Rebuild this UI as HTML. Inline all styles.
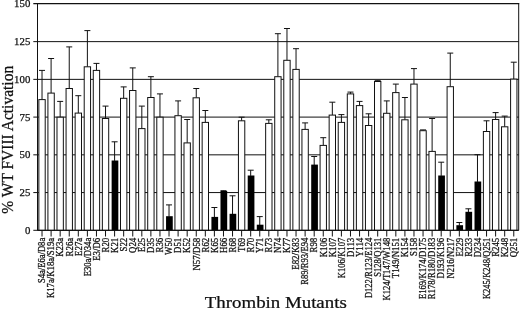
<!DOCTYPE html><html><head><meta charset="utf-8"><style>html,body{margin:0;padding:0;background:#fff;}body{width:520px;height:309px;overflow:hidden;}svg{display:block;}text{font-family:"Liberation Serif",serif;fill:#111;stroke:#111;stroke-width:0.25px;}svg{filter:grayscale(1);}</style></head><body>
<svg width="520" height="309" viewBox="0 0 520 309">
<line x1="33.30" y1="3.6" x2="519.20" y2="3.6" stroke="#111" stroke-width="1.2"/>
<text font-size="10.8" text-anchor="end" transform="translate(30.3,7.40) scale(1.0,1)">150</text>
<line x1="33.30" y1="41.63" x2="518.70" y2="41.63" stroke="#111" stroke-width="1.0"/>
<text font-size="10.8" text-anchor="end" transform="translate(30.3,45.13) scale(1.0,1)">125</text>
<line x1="33.30" y1="79.37" x2="518.70" y2="79.37" stroke="#111" stroke-width="1.0"/>
<text font-size="10.8" text-anchor="end" transform="translate(30.3,82.87) scale(1.0,1)">100</text>
<line x1="33.30" y1="117.10" x2="518.70" y2="117.10" stroke="#111" stroke-width="1.0"/>
<text font-size="10.8" text-anchor="end" transform="translate(30.3,120.60) scale(1.0,1)">75</text>
<line x1="33.30" y1="154.83" x2="518.70" y2="154.83" stroke="#111" stroke-width="1.0"/>
<text font-size="10.8" text-anchor="end" transform="translate(30.3,158.33) scale(1.0,1)">50</text>
<line x1="33.30" y1="192.57" x2="518.70" y2="192.57" stroke="#111" stroke-width="1.0"/>
<text font-size="10.8" text-anchor="end" transform="translate(30.3,196.07) scale(1.0,1)">25</text>
<line x1="33.30" y1="230.30" x2="518.70" y2="230.30" stroke="#111" stroke-width="1.0"/>
<text font-size="10.8" text-anchor="end" transform="translate(30.3,233.80) scale(1.0,1)">0</text>
<line x1="42.02" y1="70.40" x2="42.02" y2="99.60" stroke="#111" stroke-width="1.0"/>
<line x1="39.02" y1="70.40" x2="45.02" y2="70.40" stroke="#111" stroke-width="1.0"/>
<rect x="38.85" y="99.60" width="6.35" height="130.70" fill="#fff" stroke="#111" stroke-width="1.0"/>
<line x1="42.02" y1="230.30" x2="42.02" y2="236.50" stroke="#111" stroke-width="1.0"/>
<text font-size="8.8" text-anchor="end" transform="translate(45.32,237.8) scale(1.1,0.976) rotate(-90)">S4a/E6a/D8a</text>
<line x1="51.10" y1="58.50" x2="51.10" y2="93.10" stroke="#111" stroke-width="1.0"/>
<line x1="48.10" y1="58.50" x2="54.10" y2="58.50" stroke="#111" stroke-width="1.0"/>
<rect x="47.92" y="93.10" width="6.35" height="137.20" fill="#fff" stroke="#111" stroke-width="1.0"/>
<line x1="51.10" y1="230.30" x2="51.10" y2="236.50" stroke="#111" stroke-width="1.0"/>
<text font-size="8.8" text-anchor="end" transform="translate(54.40,237.8) scale(1.1,0.997) rotate(-90)">K17a/K18a/S19a</text>
<line x1="60.17" y1="101.40" x2="60.17" y2="117.20" stroke="#111" stroke-width="1.0"/>
<line x1="57.17" y1="101.40" x2="63.17" y2="101.40" stroke="#111" stroke-width="1.0"/>
<rect x="56.99" y="117.20" width="6.35" height="113.10" fill="#fff" stroke="#111" stroke-width="1.0"/>
<line x1="60.17" y1="230.30" x2="60.17" y2="236.50" stroke="#111" stroke-width="1.0"/>
<text font-size="8.8" text-anchor="end" transform="translate(63.47,237.8) scale(1.1,1.000) rotate(-90)">K23a</text>
<line x1="69.24" y1="46.90" x2="69.24" y2="88.50" stroke="#111" stroke-width="1.0"/>
<line x1="66.24" y1="46.90" x2="72.24" y2="46.90" stroke="#111" stroke-width="1.0"/>
<rect x="66.07" y="88.50" width="6.35" height="141.80" fill="#fff" stroke="#111" stroke-width="1.0"/>
<line x1="69.24" y1="230.30" x2="69.24" y2="236.50" stroke="#111" stroke-width="1.0"/>
<text font-size="8.8" text-anchor="end" transform="translate(72.54,237.8) scale(1.1,1.000) rotate(-90)">R26a</text>
<line x1="78.31" y1="95.70" x2="78.31" y2="113.10" stroke="#111" stroke-width="1.0"/>
<line x1="75.31" y1="95.70" x2="81.31" y2="95.70" stroke="#111" stroke-width="1.0"/>
<rect x="75.14" y="113.10" width="6.35" height="117.20" fill="#fff" stroke="#111" stroke-width="1.0"/>
<line x1="78.31" y1="230.30" x2="78.31" y2="236.50" stroke="#111" stroke-width="1.0"/>
<text font-size="8.8" text-anchor="end" transform="translate(81.61,237.8) scale(1.1,1.000) rotate(-90)">E27a</text>
<line x1="87.38" y1="30.60" x2="87.38" y2="66.80" stroke="#111" stroke-width="1.0"/>
<line x1="84.38" y1="30.60" x2="90.38" y2="30.60" stroke="#111" stroke-width="1.0"/>
<rect x="84.21" y="66.80" width="6.35" height="163.50" fill="#fff" stroke="#111" stroke-width="1.0"/>
<line x1="87.38" y1="230.30" x2="87.38" y2="236.50" stroke="#111" stroke-width="1.0"/>
<text font-size="8.8" text-anchor="end" transform="translate(90.68,237.8) scale(1.1,0.974) rotate(-90)">E30a/D34a</text>
<line x1="96.46" y1="63.40" x2="96.46" y2="70.40" stroke="#111" stroke-width="1.0"/>
<line x1="93.46" y1="63.40" x2="99.46" y2="63.40" stroke="#111" stroke-width="1.0"/>
<rect x="93.28" y="70.40" width="6.35" height="159.90" fill="#fff" stroke="#111" stroke-width="1.0"/>
<line x1="96.46" y1="230.30" x2="96.46" y2="236.50" stroke="#111" stroke-width="1.0"/>
<text font-size="8.8" text-anchor="end" transform="translate(99.76,237.8) scale(1.1,1.000) rotate(-90)">E3/D6</text>
<line x1="105.53" y1="106.10" x2="105.53" y2="118.50" stroke="#111" stroke-width="1.0"/>
<line x1="102.53" y1="106.10" x2="108.53" y2="106.10" stroke="#111" stroke-width="1.0"/>
<rect x="102.35" y="118.50" width="6.35" height="111.80" fill="#fff" stroke="#111" stroke-width="1.0"/>
<line x1="105.53" y1="230.30" x2="105.53" y2="236.50" stroke="#111" stroke-width="1.0"/>
<text font-size="8.8" text-anchor="end" transform="translate(108.83,237.8) scale(1.1,1.000) rotate(-90)">R20</text>
<line x1="114.60" y1="141.80" x2="114.60" y2="160.90" stroke="#111" stroke-width="1.0"/>
<line x1="111.60" y1="141.80" x2="117.60" y2="141.80" stroke="#111" stroke-width="1.0"/>
<rect x="111.63" y="160.50" width="6.7" height="69.80" fill="#000"/>
<line x1="114.60" y1="230.30" x2="114.60" y2="236.50" stroke="#111" stroke-width="1.0"/>
<text font-size="8.8" text-anchor="end" transform="translate(117.90,237.8) scale(1.1,1.000) rotate(-90)">K21</text>
<line x1="123.67" y1="86.90" x2="123.67" y2="98.30" stroke="#111" stroke-width="1.0"/>
<line x1="120.67" y1="86.90" x2="126.67" y2="86.90" stroke="#111" stroke-width="1.0"/>
<rect x="120.50" y="98.30" width="6.35" height="132.00" fill="#fff" stroke="#111" stroke-width="1.0"/>
<line x1="123.67" y1="230.30" x2="123.67" y2="236.50" stroke="#111" stroke-width="1.0"/>
<text font-size="8.8" text-anchor="end" transform="translate(126.97,237.8) scale(1.1,1.000) rotate(-90)">S22</text>
<line x1="132.75" y1="67.90" x2="132.75" y2="90.50" stroke="#111" stroke-width="1.0"/>
<line x1="129.75" y1="67.90" x2="135.75" y2="67.90" stroke="#111" stroke-width="1.0"/>
<rect x="129.57" y="90.50" width="6.35" height="139.80" fill="#fff" stroke="#111" stroke-width="1.0"/>
<line x1="132.75" y1="230.30" x2="132.75" y2="236.50" stroke="#111" stroke-width="1.0"/>
<text font-size="8.8" text-anchor="end" transform="translate(136.05,237.8) scale(1.1,1.000) rotate(-90)">Q24</text>
<line x1="141.82" y1="106.10" x2="141.82" y2="128.60" stroke="#111" stroke-width="1.0"/>
<line x1="138.82" y1="106.10" x2="144.82" y2="106.10" stroke="#111" stroke-width="1.0"/>
<rect x="138.64" y="128.60" width="6.35" height="101.70" fill="#fff" stroke="#111" stroke-width="1.0"/>
<line x1="141.82" y1="230.30" x2="141.82" y2="236.50" stroke="#111" stroke-width="1.0"/>
<text font-size="8.8" text-anchor="end" transform="translate(145.12,237.8) scale(1.1,1.000) rotate(-90)">E25</text>
<line x1="150.89" y1="76.70" x2="150.89" y2="97.50" stroke="#111" stroke-width="1.0"/>
<line x1="147.89" y1="76.70" x2="153.89" y2="76.70" stroke="#111" stroke-width="1.0"/>
<rect x="147.71" y="97.50" width="6.35" height="132.80" fill="#fff" stroke="#111" stroke-width="1.0"/>
<line x1="150.89" y1="230.30" x2="150.89" y2="236.50" stroke="#111" stroke-width="1.0"/>
<text font-size="8.8" text-anchor="end" transform="translate(154.19,237.8) scale(1.1,1.000) rotate(-90)">D35</text>
<line x1="159.96" y1="93.90" x2="159.96" y2="117.20" stroke="#111" stroke-width="1.0"/>
<line x1="156.96" y1="93.90" x2="162.96" y2="93.90" stroke="#111" stroke-width="1.0"/>
<rect x="156.79" y="117.20" width="6.35" height="113.10" fill="#fff" stroke="#111" stroke-width="1.0"/>
<line x1="159.96" y1="230.30" x2="159.96" y2="236.50" stroke="#111" stroke-width="1.0"/>
<text font-size="8.8" text-anchor="end" transform="translate(163.26,237.8) scale(1.1,1.000) rotate(-90)">R36</text>
<line x1="169.03" y1="204.90" x2="169.03" y2="216.60" stroke="#111" stroke-width="1.0"/>
<line x1="166.03" y1="204.90" x2="172.03" y2="204.90" stroke="#111" stroke-width="1.0"/>
<rect x="166.06" y="216.20" width="6.7" height="14.10" fill="#000"/>
<line x1="169.03" y1="230.30" x2="169.03" y2="236.50" stroke="#111" stroke-width="1.0"/>
<text font-size="8.8" text-anchor="end" transform="translate(172.33,237.8) scale(1.1,1.000) rotate(-90)">W50</text>
<line x1="178.10" y1="100.90" x2="178.10" y2="115.70" stroke="#111" stroke-width="1.0"/>
<line x1="175.10" y1="100.90" x2="181.10" y2="100.90" stroke="#111" stroke-width="1.0"/>
<rect x="174.93" y="115.70" width="6.35" height="114.60" fill="#fff" stroke="#111" stroke-width="1.0"/>
<line x1="178.10" y1="230.30" x2="178.10" y2="236.50" stroke="#111" stroke-width="1.0"/>
<text font-size="8.8" text-anchor="end" transform="translate(181.41,237.8) scale(1.1,1.000) rotate(-90)">D51</text>
<line x1="187.18" y1="119.50" x2="187.18" y2="142.90" stroke="#111" stroke-width="1.0"/>
<line x1="184.18" y1="119.50" x2="190.18" y2="119.50" stroke="#111" stroke-width="1.0"/>
<rect x="184.00" y="142.90" width="6.35" height="87.40" fill="#fff" stroke="#111" stroke-width="1.0"/>
<line x1="187.18" y1="230.30" x2="187.18" y2="236.50" stroke="#111" stroke-width="1.0"/>
<text font-size="8.8" text-anchor="end" transform="translate(190.48,237.8) scale(1.1,1.000) rotate(-90)">K52</text>
<line x1="196.25" y1="88.50" x2="196.25" y2="97.80" stroke="#111" stroke-width="1.0"/>
<line x1="193.25" y1="88.50" x2="199.25" y2="88.50" stroke="#111" stroke-width="1.0"/>
<rect x="193.07" y="97.80" width="6.35" height="132.50" fill="#fff" stroke="#111" stroke-width="1.0"/>
<line x1="196.25" y1="230.30" x2="196.25" y2="236.50" stroke="#111" stroke-width="1.0"/>
<text font-size="8.8" text-anchor="end" transform="translate(199.55,237.8) scale(1.1,1.003) rotate(-90)">N57/D58</text>
<line x1="205.32" y1="110.50" x2="205.32" y2="122.40" stroke="#111" stroke-width="1.0"/>
<line x1="202.32" y1="110.50" x2="208.32" y2="110.50" stroke="#111" stroke-width="1.0"/>
<rect x="202.15" y="122.40" width="6.35" height="107.90" fill="#fff" stroke="#111" stroke-width="1.0"/>
<line x1="205.32" y1="230.30" x2="205.32" y2="236.50" stroke="#111" stroke-width="1.0"/>
<text font-size="8.8" text-anchor="end" transform="translate(208.62,237.8) scale(1.1,1.000) rotate(-90)">R62</text>
<line x1="214.39" y1="207.50" x2="214.39" y2="217.30" stroke="#111" stroke-width="1.0"/>
<line x1="211.39" y1="207.50" x2="217.39" y2="207.50" stroke="#111" stroke-width="1.0"/>
<rect x="211.42" y="216.90" width="6.7" height="13.40" fill="#000"/>
<line x1="214.39" y1="230.30" x2="214.39" y2="236.50" stroke="#111" stroke-width="1.0"/>
<text font-size="8.8" text-anchor="end" transform="translate(217.69,237.8) scale(1.1,1.000) rotate(-90)">K65</text>
<line x1="223.47" y1="190.70" x2="223.47" y2="191.40" stroke="#111" stroke-width="1.0"/>
<line x1="220.47" y1="190.70" x2="226.47" y2="190.70" stroke="#111" stroke-width="1.0"/>
<rect x="220.49" y="191.00" width="6.7" height="39.30" fill="#000"/>
<line x1="223.47" y1="230.30" x2="223.47" y2="236.50" stroke="#111" stroke-width="1.0"/>
<text font-size="8.8" text-anchor="end" transform="translate(226.77,237.8) scale(1.1,1.000) rotate(-90)">H66</text>
<line x1="232.54" y1="195.80" x2="232.54" y2="214.20" stroke="#111" stroke-width="1.0"/>
<line x1="229.54" y1="195.80" x2="235.54" y2="195.80" stroke="#111" stroke-width="1.0"/>
<rect x="229.56" y="213.80" width="6.7" height="16.50" fill="#000"/>
<line x1="232.54" y1="230.30" x2="232.54" y2="236.50" stroke="#111" stroke-width="1.0"/>
<text font-size="8.8" text-anchor="end" transform="translate(235.84,237.8) scale(1.1,1.000) rotate(-90)">R68</text>
<line x1="241.61" y1="117.20" x2="241.61" y2="120.80" stroke="#111" stroke-width="1.0"/>
<line x1="238.61" y1="117.20" x2="244.61" y2="117.20" stroke="#111" stroke-width="1.0"/>
<rect x="238.43" y="120.80" width="6.35" height="109.50" fill="#fff" stroke="#111" stroke-width="1.0"/>
<line x1="241.61" y1="230.30" x2="241.61" y2="236.50" stroke="#111" stroke-width="1.0"/>
<text font-size="8.8" text-anchor="end" transform="translate(244.91,237.8) scale(1.1,1.000) rotate(-90)">T69</text>
<line x1="250.68" y1="170.20" x2="250.68" y2="175.90" stroke="#111" stroke-width="1.0"/>
<line x1="247.68" y1="170.20" x2="253.68" y2="170.20" stroke="#111" stroke-width="1.0"/>
<rect x="247.71" y="175.50" width="6.7" height="54.80" fill="#000"/>
<line x1="250.68" y1="230.30" x2="250.68" y2="236.50" stroke="#111" stroke-width="1.0"/>
<text font-size="8.8" text-anchor="end" transform="translate(253.98,237.8) scale(1.1,1.000) rotate(-90)">R70</text>
<line x1="259.75" y1="216.60" x2="259.75" y2="225.10" stroke="#111" stroke-width="1.0"/>
<line x1="256.75" y1="216.60" x2="262.75" y2="216.60" stroke="#111" stroke-width="1.0"/>
<rect x="256.78" y="224.70" width="6.7" height="5.60" fill="#000"/>
<line x1="259.75" y1="230.30" x2="259.75" y2="236.50" stroke="#111" stroke-width="1.0"/>
<text font-size="8.8" text-anchor="end" transform="translate(263.05,237.8) scale(1.1,1.000) rotate(-90)">Y71</text>
<line x1="268.82" y1="119.80" x2="268.82" y2="123.40" stroke="#111" stroke-width="1.0"/>
<line x1="265.82" y1="119.80" x2="271.82" y2="119.80" stroke="#111" stroke-width="1.0"/>
<rect x="265.65" y="123.40" width="6.35" height="106.90" fill="#fff" stroke="#111" stroke-width="1.0"/>
<line x1="268.82" y1="230.30" x2="268.82" y2="236.50" stroke="#111" stroke-width="1.0"/>
<text font-size="8.8" text-anchor="end" transform="translate(272.12,237.8) scale(1.1,1.000) rotate(-90)">R73</text>
<line x1="277.90" y1="33.70" x2="277.90" y2="76.70" stroke="#111" stroke-width="1.0"/>
<line x1="274.90" y1="33.70" x2="280.90" y2="33.70" stroke="#111" stroke-width="1.0"/>
<rect x="274.72" y="76.70" width="6.35" height="153.60" fill="#fff" stroke="#111" stroke-width="1.0"/>
<line x1="277.90" y1="230.30" x2="277.90" y2="236.50" stroke="#111" stroke-width="1.0"/>
<text font-size="8.8" text-anchor="end" transform="translate(281.20,237.8) scale(1.1,1.000) rotate(-90)">N74</text>
<line x1="286.97" y1="28.50" x2="286.97" y2="60.30" stroke="#111" stroke-width="1.0"/>
<line x1="283.97" y1="28.50" x2="289.97" y2="28.50" stroke="#111" stroke-width="1.0"/>
<rect x="283.79" y="60.30" width="6.35" height="170.00" fill="#fff" stroke="#111" stroke-width="1.0"/>
<line x1="286.97" y1="230.30" x2="286.97" y2="236.50" stroke="#111" stroke-width="1.0"/>
<text font-size="8.8" text-anchor="end" transform="translate(290.27,237.8) scale(1.1,1.000) rotate(-90)">K77</text>
<line x1="296.04" y1="48.70" x2="296.04" y2="69.40" stroke="#111" stroke-width="1.0"/>
<line x1="293.04" y1="48.70" x2="299.04" y2="48.70" stroke="#111" stroke-width="1.0"/>
<rect x="292.87" y="69.40" width="6.35" height="160.90" fill="#fff" stroke="#111" stroke-width="1.0"/>
<line x1="296.04" y1="230.30" x2="296.04" y2="236.50" stroke="#111" stroke-width="1.0"/>
<text font-size="8.8" text-anchor="end" transform="translate(299.34,237.8) scale(1.1,1.007) rotate(-90)">E82/K83</text>
<line x1="305.11" y1="122.90" x2="305.11" y2="129.40" stroke="#111" stroke-width="1.0"/>
<line x1="302.11" y1="122.90" x2="308.11" y2="122.90" stroke="#111" stroke-width="1.0"/>
<rect x="301.94" y="129.40" width="6.35" height="100.90" fill="#fff" stroke="#111" stroke-width="1.0"/>
<line x1="305.11" y1="230.30" x2="305.11" y2="236.50" stroke="#111" stroke-width="1.0"/>
<text font-size="8.8" text-anchor="end" transform="translate(308.41,237.8) scale(1.1,0.972) rotate(-90)">R89/R93/E94</text>
<line x1="314.19" y1="156.50" x2="314.19" y2="165.00" stroke="#111" stroke-width="1.0"/>
<line x1="311.19" y1="156.50" x2="317.19" y2="156.50" stroke="#111" stroke-width="1.0"/>
<rect x="311.21" y="164.60" width="6.7" height="65.70" fill="#000"/>
<line x1="314.19" y1="230.30" x2="314.19" y2="236.50" stroke="#111" stroke-width="1.0"/>
<text font-size="8.8" text-anchor="end" transform="translate(317.49,237.8) scale(1.1,1.000) rotate(-90)">R98</text>
<line x1="323.26" y1="137.70" x2="323.26" y2="145.40" stroke="#111" stroke-width="1.0"/>
<line x1="320.26" y1="137.70" x2="326.26" y2="137.70" stroke="#111" stroke-width="1.0"/>
<rect x="320.08" y="145.40" width="6.35" height="84.90" fill="#fff" stroke="#111" stroke-width="1.0"/>
<line x1="323.26" y1="230.30" x2="323.26" y2="236.50" stroke="#111" stroke-width="1.0"/>
<text font-size="8.8" text-anchor="end" transform="translate(326.56,237.8) scale(1.1,1.000) rotate(-90)">K106</text>
<line x1="332.33" y1="102.20" x2="332.33" y2="115.10" stroke="#111" stroke-width="1.0"/>
<line x1="329.33" y1="102.20" x2="335.33" y2="102.20" stroke="#111" stroke-width="1.0"/>
<rect x="329.15" y="115.10" width="6.35" height="115.20" fill="#fff" stroke="#111" stroke-width="1.0"/>
<line x1="332.33" y1="230.30" x2="332.33" y2="236.50" stroke="#111" stroke-width="1.0"/>
<text font-size="8.8" text-anchor="end" transform="translate(335.63,237.8) scale(1.1,1.000) rotate(-90)">K107</text>
<line x1="341.40" y1="114.60" x2="341.40" y2="122.40" stroke="#111" stroke-width="1.0"/>
<line x1="338.40" y1="114.60" x2="344.40" y2="114.60" stroke="#111" stroke-width="1.0"/>
<rect x="338.23" y="122.40" width="6.35" height="107.90" fill="#fff" stroke="#111" stroke-width="1.0"/>
<line x1="341.40" y1="230.30" x2="341.40" y2="236.50" stroke="#111" stroke-width="1.0"/>
<text font-size="8.8" text-anchor="end" transform="translate(344.70,237.8) scale(1.1,0.973) rotate(-90)">K106/K107</text>
<line x1="350.47" y1="92.10" x2="350.47" y2="93.90" stroke="#111" stroke-width="1.0"/>
<line x1="347.47" y1="92.10" x2="353.47" y2="92.10" stroke="#111" stroke-width="1.0"/>
<rect x="347.30" y="93.90" width="6.35" height="136.40" fill="#fff" stroke="#111" stroke-width="1.0"/>
<line x1="350.47" y1="230.30" x2="350.47" y2="236.50" stroke="#111" stroke-width="1.0"/>
<text font-size="8.8" text-anchor="end" transform="translate(353.77,237.8) scale(1.1,1.000) rotate(-90)">D113</text>
<line x1="359.55" y1="101.40" x2="359.55" y2="105.60" stroke="#111" stroke-width="1.0"/>
<line x1="356.55" y1="101.40" x2="362.55" y2="101.40" stroke="#111" stroke-width="1.0"/>
<rect x="356.37" y="105.60" width="6.35" height="124.70" fill="#fff" stroke="#111" stroke-width="1.0"/>
<line x1="359.55" y1="230.30" x2="359.55" y2="236.50" stroke="#111" stroke-width="1.0"/>
<text font-size="8.8" text-anchor="end" transform="translate(362.85,237.8) scale(1.1,1.000) rotate(-90)">Y114</text>
<line x1="368.62" y1="113.80" x2="368.62" y2="125.50" stroke="#111" stroke-width="1.0"/>
<line x1="365.62" y1="113.80" x2="371.62" y2="113.80" stroke="#111" stroke-width="1.0"/>
<rect x="365.44" y="125.50" width="6.35" height="104.80" fill="#fff" stroke="#111" stroke-width="1.0"/>
<line x1="368.62" y1="230.30" x2="368.62" y2="236.50" stroke="#111" stroke-width="1.0"/>
<text font-size="8.8" text-anchor="end" transform="translate(371.92,237.8) scale(1.1,0.972) rotate(-90)">D122/R123/E124</text>
<line x1="377.69" y1="80.70" x2="377.69" y2="81.50" stroke="#111" stroke-width="1.0"/>
<line x1="374.69" y1="80.70" x2="380.69" y2="80.70" stroke="#111" stroke-width="1.0"/>
<rect x="374.51" y="81.50" width="6.35" height="148.80" fill="#fff" stroke="#111" stroke-width="1.0"/>
<line x1="377.69" y1="230.30" x2="377.69" y2="236.50" stroke="#111" stroke-width="1.0"/>
<text font-size="8.8" text-anchor="end" transform="translate(380.99,237.8) scale(1.1,0.972) rotate(-90)">S128/Q131</text>
<line x1="386.76" y1="100.90" x2="386.76" y2="113.30" stroke="#111" stroke-width="1.0"/>
<line x1="383.76" y1="100.90" x2="389.76" y2="100.90" stroke="#111" stroke-width="1.0"/>
<rect x="383.59" y="113.30" width="6.35" height="117.00" fill="#fff" stroke="#111" stroke-width="1.0"/>
<line x1="386.76" y1="230.30" x2="386.76" y2="236.50" stroke="#111" stroke-width="1.0"/>
<text font-size="8.8" text-anchor="end" transform="translate(390.06,237.8) scale(1.1,0.972) rotate(-90)">K124/T147/W148</text>
<line x1="395.83" y1="84.10" x2="395.83" y2="92.60" stroke="#111" stroke-width="1.0"/>
<line x1="392.83" y1="84.10" x2="398.83" y2="84.10" stroke="#111" stroke-width="1.0"/>
<rect x="392.66" y="92.60" width="6.35" height="137.70" fill="#fff" stroke="#111" stroke-width="1.0"/>
<line x1="395.83" y1="230.30" x2="395.83" y2="236.50" stroke="#111" stroke-width="1.0"/>
<text font-size="8.8" text-anchor="end" transform="translate(399.13,237.8) scale(1.1,0.997) rotate(-90)">T149/N151</text>
<line x1="404.91" y1="97.50" x2="404.91" y2="119.80" stroke="#111" stroke-width="1.0"/>
<line x1="401.91" y1="97.50" x2="407.91" y2="97.50" stroke="#111" stroke-width="1.0"/>
<rect x="401.73" y="119.80" width="6.35" height="110.50" fill="#fff" stroke="#111" stroke-width="1.0"/>
<line x1="404.91" y1="230.30" x2="404.91" y2="236.50" stroke="#111" stroke-width="1.0"/>
<text font-size="8.8" text-anchor="end" transform="translate(408.21,237.8) scale(1.1,1.000) rotate(-90)">K154</text>
<line x1="413.98" y1="68.60" x2="413.98" y2="84.10" stroke="#111" stroke-width="1.0"/>
<line x1="410.98" y1="68.60" x2="416.98" y2="68.60" stroke="#111" stroke-width="1.0"/>
<rect x="410.80" y="84.10" width="6.35" height="146.20" fill="#fff" stroke="#111" stroke-width="1.0"/>
<line x1="413.98" y1="230.30" x2="413.98" y2="236.50" stroke="#111" stroke-width="1.0"/>
<text font-size="8.8" text-anchor="end" transform="translate(417.28,237.8) scale(1.1,1.000) rotate(-90)">S158</text>
<line x1="423.05" y1="129.90" x2="423.05" y2="130.70" stroke="#111" stroke-width="1.0"/>
<line x1="420.05" y1="129.90" x2="426.05" y2="129.90" stroke="#111" stroke-width="1.0"/>
<rect x="419.87" y="130.70" width="6.35" height="99.60" fill="#fff" stroke="#111" stroke-width="1.0"/>
<line x1="423.05" y1="230.30" x2="423.05" y2="236.50" stroke="#111" stroke-width="1.0"/>
<text font-size="8.8" text-anchor="end" transform="translate(426.35,237.8) scale(1.1,0.982) rotate(-90)">E169/K174/D175</text>
<line x1="432.12" y1="118.50" x2="432.12" y2="151.40" stroke="#111" stroke-width="1.0"/>
<line x1="429.12" y1="118.50" x2="435.12" y2="118.50" stroke="#111" stroke-width="1.0"/>
<rect x="428.95" y="151.40" width="6.35" height="78.90" fill="#fff" stroke="#111" stroke-width="1.0"/>
<line x1="432.12" y1="230.30" x2="432.12" y2="236.50" stroke="#111" stroke-width="1.0"/>
<text font-size="8.8" text-anchor="end" transform="translate(435.42,237.8) scale(1.1,0.982) rotate(-90)">R178/R180/D183</text>
<line x1="441.19" y1="162.20" x2="441.19" y2="175.90" stroke="#111" stroke-width="1.0"/>
<line x1="438.19" y1="162.20" x2="444.19" y2="162.20" stroke="#111" stroke-width="1.0"/>
<rect x="438.22" y="175.50" width="6.7" height="54.80" fill="#000"/>
<line x1="441.19" y1="230.30" x2="441.19" y2="236.50" stroke="#111" stroke-width="1.0"/>
<text font-size="8.8" text-anchor="end" transform="translate(444.49,237.8) scale(1.1,0.983) rotate(-90)">D193/K196</text>
<line x1="450.26" y1="53.10" x2="450.26" y2="86.70" stroke="#111" stroke-width="1.0"/>
<line x1="447.26" y1="53.10" x2="453.26" y2="53.10" stroke="#111" stroke-width="1.0"/>
<rect x="447.09" y="86.70" width="6.35" height="143.60" fill="#fff" stroke="#111" stroke-width="1.0"/>
<line x1="450.26" y1="230.30" x2="450.26" y2="236.50" stroke="#111" stroke-width="1.0"/>
<text font-size="8.8" text-anchor="end" transform="translate(453.56,237.8) scale(1.1,0.983) rotate(-90)">N216/N217</text>
<line x1="459.34" y1="222.50" x2="459.34" y2="225.60" stroke="#111" stroke-width="1.0"/>
<line x1="456.34" y1="222.50" x2="462.34" y2="222.50" stroke="#111" stroke-width="1.0"/>
<rect x="456.36" y="225.20" width="6.7" height="5.10" fill="#000"/>
<line x1="459.34" y1="230.30" x2="459.34" y2="236.50" stroke="#111" stroke-width="1.0"/>
<text font-size="8.8" text-anchor="end" transform="translate(462.64,237.8) scale(1.1,1.000) rotate(-90)">E229</text>
<line x1="468.41" y1="208.80" x2="468.41" y2="212.20" stroke="#111" stroke-width="1.0"/>
<line x1="465.41" y1="208.80" x2="471.41" y2="208.80" stroke="#111" stroke-width="1.0"/>
<rect x="465.43" y="211.80" width="6.7" height="18.50" fill="#000"/>
<line x1="468.41" y1="230.30" x2="468.41" y2="236.50" stroke="#111" stroke-width="1.0"/>
<text font-size="8.8" text-anchor="end" transform="translate(471.71,237.8) scale(1.1,1.000) rotate(-90)">R233</text>
<line x1="477.48" y1="154.70" x2="477.48" y2="181.90" stroke="#111" stroke-width="1.0"/>
<line x1="474.48" y1="154.70" x2="480.48" y2="154.70" stroke="#111" stroke-width="1.0"/>
<rect x="474.51" y="181.50" width="6.7" height="48.80" fill="#000"/>
<line x1="477.48" y1="230.30" x2="477.48" y2="236.50" stroke="#111" stroke-width="1.0"/>
<text font-size="8.8" text-anchor="end" transform="translate(480.78,237.8) scale(1.1,1.000) rotate(-90)">D234</text>
<line x1="486.55" y1="120.80" x2="486.55" y2="131.50" stroke="#111" stroke-width="1.0"/>
<line x1="483.55" y1="120.80" x2="489.55" y2="120.80" stroke="#111" stroke-width="1.0"/>
<rect x="483.38" y="131.50" width="6.35" height="98.80" fill="#fff" stroke="#111" stroke-width="1.0"/>
<line x1="486.55" y1="230.30" x2="486.55" y2="236.50" stroke="#111" stroke-width="1.0"/>
<text font-size="8.8" text-anchor="end" transform="translate(489.85,237.8) scale(1.1,0.965) rotate(-90)">K245/K248/Q251</text>
<line x1="495.62" y1="112.60" x2="495.62" y2="119.50" stroke="#111" stroke-width="1.0"/>
<line x1="492.62" y1="112.60" x2="498.62" y2="112.60" stroke="#111" stroke-width="1.0"/>
<rect x="492.45" y="119.50" width="6.35" height="110.80" fill="#fff" stroke="#111" stroke-width="1.0"/>
<line x1="495.62" y1="230.30" x2="495.62" y2="236.50" stroke="#111" stroke-width="1.0"/>
<text font-size="8.8" text-anchor="end" transform="translate(498.93,237.8) scale(1.1,1.000) rotate(-90)">R245</text>
<line x1="504.70" y1="116.10" x2="504.70" y2="126.80" stroke="#111" stroke-width="1.0"/>
<line x1="501.70" y1="116.10" x2="507.70" y2="116.10" stroke="#111" stroke-width="1.0"/>
<rect x="501.52" y="126.80" width="6.35" height="103.50" fill="#fff" stroke="#111" stroke-width="1.0"/>
<line x1="504.70" y1="230.30" x2="504.70" y2="236.50" stroke="#111" stroke-width="1.0"/>
<text font-size="8.8" text-anchor="end" transform="translate(508.00,237.8) scale(1.1,1.000) rotate(-90)">K248</text>
<line x1="513.77" y1="62.20" x2="513.77" y2="79.10" stroke="#111" stroke-width="1.0"/>
<line x1="510.77" y1="62.20" x2="516.77" y2="62.20" stroke="#111" stroke-width="1.0"/>
<rect x="510.59" y="79.10" width="6.35" height="151.20" fill="#fff" stroke="#111" stroke-width="1.0"/>
<line x1="513.77" y1="230.30" x2="513.77" y2="236.50" stroke="#111" stroke-width="1.0"/>
<text font-size="8.8" text-anchor="end" transform="translate(517.07,237.8) scale(1.1,1.000) rotate(-90)">Q251</text>
<line x1="37.50" y1="3.0" x2="37.50" y2="230.30" stroke="#111" stroke-width="1.0"/>
<line x1="518.70" y1="3.0" x2="518.70" y2="230.30" stroke="#111" stroke-width="1.0"/>
<line x1="37.50" y1="230.30" x2="518.70" y2="230.30" stroke="#111" stroke-width="1.0"/>
<text font-size="15.5" text-anchor="middle" transform="translate(12.9,139.8) scale(1.14,1) rotate(-90)">% WT FVIII Activation</text>
<text font-size="17" text-anchor="middle" transform="translate(275.8,307.8) scale(1.11,1)">Thrombin Mutants</text>
</svg></body></html>
